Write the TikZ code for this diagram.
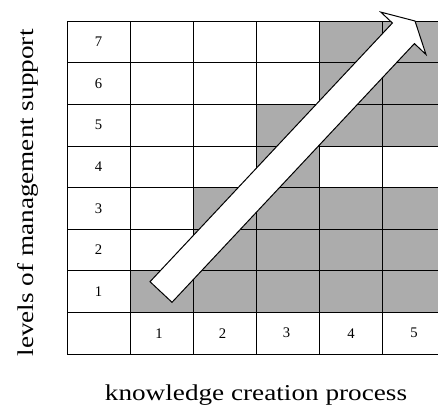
\documentclass[tikz,border=0pt]{standalone}
\usepackage{fontspec}
\setmainfont{Liberation Serif}
\newfontfamily\axisfont[FakeStretch=1.2]{Liberation Serif}
\usepackage{amssymb, mathtools, amsmath}

\begin{document}
\begin{tikzpicture}[x=0.75pt,y=0.75pt,yscale=-1,xscale=1]
\path [use as bounding box] (0,0) rectangle (438,407);

%Shape: Shaded cells
\fill [color={rgb, 255:red, 172; green, 172; blue, 172 }] (319,21) rectangle (438,104.25) ;
\fill [color={rgb, 255:red, 172; green, 172; blue, 172 }] (256,104.25) rectangle (438,145.9) ;
\fill [color={rgb, 255:red, 172; green, 172; blue, 172 }] (256,145.9) rectangle (319,187.5) ;
\fill [color={rgb, 255:red, 172; green, 172; blue, 172 }] (193,187.5) rectangle (438,270.75) ;
\fill [color={rgb, 255:red, 172; green, 172; blue, 172 }] (130,270.75) rectangle (438,312.4) ;

%Shape: Grid
\draw [line width=0.6]  (67,21) -- (438,21)(67,62.6) -- (438,62.6)(67,104.25) -- (438,104.25)(67,145.9) -- (438,145.9)(67,187.5) -- (438,187.5)(67,229.1) -- (438,229.1)(67,270.75) -- (438,270.75)(67,312.4) -- (438,312.4)(67,354) -- (438,354) ;
\draw [line width=0.6]  (67,21) -- (67,354)(130,21) -- (130,354)(193,21) -- (193,354)(256,21) -- (256,354)(319,21) -- (319,354)(382,21) -- (382,354) ;

%Shape: Arrow
\draw [fill=white, line width=0.75, line join=miter]  (150,281.7) -- (392.4,23) -- (380.8,12.1) -- (415,21) -- (426,54.5) -- (414.4,43.6) -- (172,302.3) -- cycle ;

% Text Node
\draw (98.5,41.8) node [inner sep=0.75pt, font=\fontsize{11}{13}\selectfont] (lvl7) {7};
% Text Node
\draw (98.5,83.4) node [inner sep=0.75pt, font=\fontsize{11}{13}\selectfont] (lvl6) {6};
% Text Node
\draw (98.5,125.1) node [inner sep=0.75pt, font=\fontsize{11}{13}\selectfont] (lvl5) {5};
% Text Node
\draw (98.5,166.7) node [inner sep=0.75pt, font=\fontsize{11}{13}\selectfont] (lvl4) {4};
% Text Node
\draw (98.5,208.3) node [inner sep=0.75pt, font=\fontsize{11}{13}\selectfont] (lvl3) {3};
% Text Node
\draw (98.5,249.9) node [inner sep=0.75pt, font=\fontsize{11}{13}\selectfont] (lvl2) {2};
% Text Node
\draw (98.5,291.6) node [inner sep=0.75pt, font=\fontsize{11}{13}\selectfont] (lvl1) {1};
% Text Node
\draw (159,333.2) node [inner sep=0.75pt, font=\fontsize{11}{13}\selectfont] (stp1) {1};
% Text Node
\draw (222.5,333.2) node [inner sep=0.75pt, font=\fontsize{11}{13}\selectfont] (stp2) {2};
% Text Node
\draw (286.5,333.2) node [inner sep=0.75pt, font=\fontsize{11}{13}\selectfont] (stp3) {3};
% Text Node
\draw (351,333.2) node [inner sep=0.75pt, font=\fontsize{11}{13}\selectfont] (stp4) {4};
% Text Node
\draw (414,333.2) node [inner sep=0.75pt, font=\fontsize{11}{13}\selectfont] (stp5) {5};
% Text Node
\draw (256,400) node [anchor=base, inner sep=0.75pt, font=\axisfont\fontsize{17}{20}\selectfont] (xlabel) {knowledge creation process};
% Text Node
\draw (33,193) node [anchor=base, rotate=90, inner sep=0.75pt, font=\axisfont\fontsize{17}{20}\selectfont] (ylabel) {levels of management support};

\end{tikzpicture}
\end{document}
